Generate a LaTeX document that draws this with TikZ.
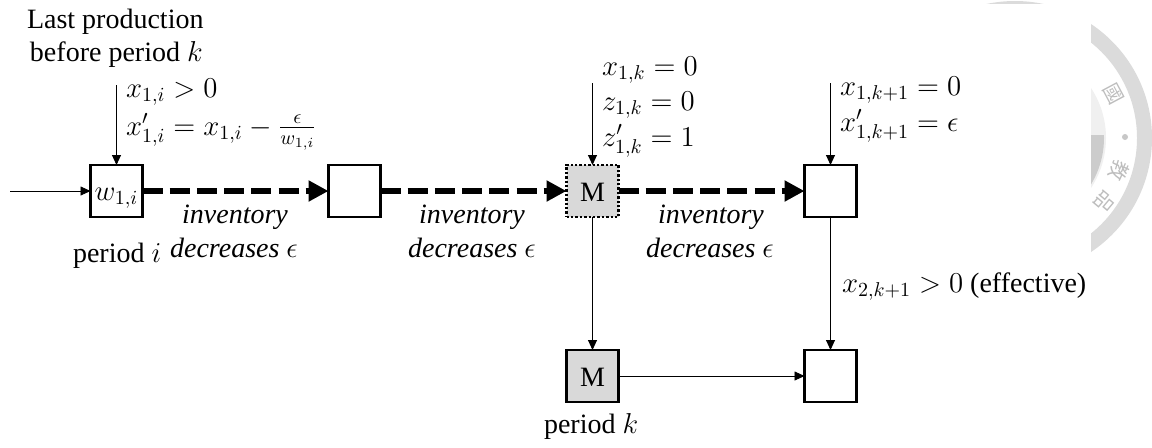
\documentclass[tikz,border=0pt]{standalone}
\usepackage[no-math]{fontspec}
\setmainfont{Liberation Serif}
\newfontfamily\cjk{Noto Sans CJK TC}
\usetikzlibrary{arrows.meta}
\tikzset{
  x=0.5pt,y=-0.5pt,
  every node/.style={inner sep=0pt,outer sep=0pt,font=\fontsize{14}{17}\selectfont},
  lbl/.style={anchor=base west},
  clbl/.style={anchor=base,font=\fontsize{14}{17}\selectfont\itshape},
  boxnode/.style={draw=black,line width=1.2pt,minimum width=26pt,minimum height=26pt,fill=white},
  mbox/.style={boxnode,fill=black!15},
  thin arrow/.style={line width=0.45pt,-{Triangle[length=5pt,width=4.5pt]}},
  thick arrow/.style={line width=3.4pt,dash pattern=on 10pt off 3.6pt,-{Triangle[length=10pt,width=10pt]}},
  wm/.style={text=black!26,font=\cjk\fontsize{10}{10}\selectfont},
  seal ring/.style={fill=black!14,even odd rule}
}
\begin{document}
\begin{tikzpicture}
\useasboundingbox (0,0) rectangle (1152,447);
% seal watermark, cut off by the page and the white area
\begin{scope}
\clip (985,0) rectangle (1045,3);
\fill[seal ring] (1015,138) circle[radius=137] (1015,138) circle[radius=122];
\end{scope}
\begin{scope}
\clip (1091,3) rectangle (1152,447);
\fill[seal ring] (1015,138) circle[radius=137] (1015,138) circle[radius=122];
\fill[black!6] (1015,138) circle[radius=91];
\begin{scope}
\clip (1091,135) rectangle (1110,195);
\fill[black!20] (1015,138) circle[radius=89];
\end{scope}
\node[wm,rotate=-62] (wm1) at (1113,94) {國};
\node[wm,rotate=-115] (wm2) at (1119,171) {教};
\node[wm,rotate=-130] (wm3) at (1105,202) {品};
\fill[black!22] (1125,137) circle[radius=3];
\end{scope}
% boxes
\node[boxnode] (a) at (116.5,191) {};
\node[boxnode] (b) at (354.5,191) {};
\node[mbox,densely dotted] (m) at (592.5,191) {};
\node[boxnode] (d) at (830.5,191) {};
\node[mbox] (m2) at (592.5,376) {};
\node[boxnode] (e) at (830.5,376) {};
\node[anchor=base] (mt) at (592.5,201) {M};
\node[anchor=base] (mt2) at (592.5,386) {M};
\node[anchor=base] (w) at (116.5,200) {$w_{1,i}$};
% free ends
\coordinate (s0) at (10,191);
\coordinate (s1) at (116.5,85);
\coordinate (s2) at (592.5,83);
\coordinate (s3) at (830.5,83);
% connectors
\draw[thin arrow] (s0) -- (a);
\draw[thin arrow] (s1) -- (a);
\draw[thin arrow] (s2) -- (m);
\draw[thin arrow] (s3) -- (d);
\draw[thin arrow] (m) -- (m2);
\draw[thin arrow] (d) -- (e);
\draw[thin arrow] (m2) -- (e);
\draw[thick arrow] (a) -- (b);
\draw[thick arrow] (b) -- (m);
\draw[thick arrow] (m) -- (d);
% labels
\node[lbl] (t1) at (27,28) {Last production};
\node[lbl] (t2) at (30,61) {before period $k$};
\node[lbl] (t3) at (126,97) {$x_{1,i}>0$};
\node[lbl] (t4) at (126,135) {$x'_{1,i}=x_{1,i}-\frac{\epsilon}{w_{1,i}}$};
\node[lbl] (t5) at (73,262) {period $i$};
\node[clbl] (i1) at (235,223) {inventory};
\node[clbl] (d1) at (234,257) {decreases $\epsilon$};
\node[clbl] (i2) at (472,223) {inventory};
\node[clbl] (d2) at (472,257) {decreases $\epsilon$};
\node[clbl] (i3) at (711,223) {inventory};
\node[clbl] (d3) at (710,257) {decreases $\epsilon$};
\node[lbl] (t6) at (602,75) {$x_{1,k}=0$};
\node[lbl] (t7) at (602,110) {$z_{1,k}=0$};
\node[lbl] (t8) at (602,146) {$z'_{1,k}=1$};
\node[lbl] (t9) at (840,95) {$x_{1,k+1}=0$};
\node[lbl] (t10) at (840,131) {$x'_{1,k+1}=\epsilon$};
\node[lbl] (t11) at (842,292) {$x_{2,k+1}>0$ (effective)};
\node[lbl] (t12) at (544,433) {period $k$};
\end{tikzpicture}
\end{document}
